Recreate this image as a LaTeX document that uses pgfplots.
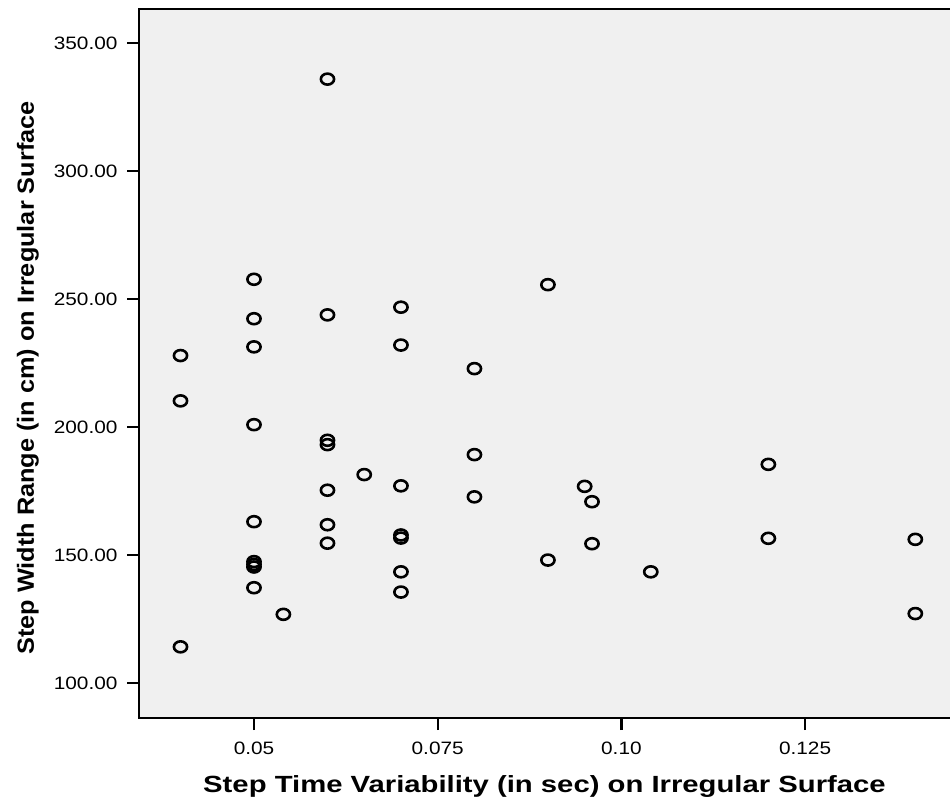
\documentclass[border=0pt]{standalone}
\usepackage{fontspec}
\setmainfont{Liberation Sans}
\newfontfamily\tickfont[FakeStretch=1.16]{Liberation Sans}
\newfontfamily\xlabfont[FakeStretch=1.25]{Liberation Sans}
\newfontfamily\ylabfont[FakeStretch=1.08]{Liberation Sans}
\usepackage{pgfplots}
\pgfplotsset{compat=1.18}
\definecolor{plotbg}{HTML}{F0F0F0}
\begin{document}
\begin{tikzpicture}
\begin{axis}[
  scale only axis,
  width=811bp, height=709bp,
  xmin=0.03435, xmax=0.14472,
  ymin=86.3, ymax=363.3,
  clip=false,
  axis background/.style={fill=plotbg},
  axis line style={draw=none},
  tick align=outside,
  major tick length=12bp,
  every tick/.style={black, line width=2.2bp},
  xtick pos=lower, ytick pos=left,
  xtick={0.05,0.075,0.1,0.125},
  xticklabels={0.05,0.075,0.10,0.125},
  ytick={100,150,200,250,300,350},
  yticklabels={100.00,150.00,200.00,250.00,300.00,350.00},
  /pgf/number format/assume math mode=true,
  tick label style={font=\tickfont\fontsize{18}{21}\selectfont},
  xticklabel style={yshift=-8bp},
  yticklabel style={xshift=-6bp},
  xlabel={Step Time Variability (in sec) on Irregular Surface},
  ylabel={Step Width Range (in cm) on Irregular Surface},
  xlabel style={font=\xlabfont\bfseries\fontsize{23.5}{27}\selectfont,
    at={(axis description cs:0.5,-0.0973)}, anchor=center},
  ylabel style={font=\ylabfont\bfseries\fontsize{23.5}{27}\selectfont,
    at={(axis description cs:-0.1369,0.4795)}, anchor=center},
]
\addplot[only marks, mark=o, mark size=5.5bp,
  mark options={xscale=1.2, line width=2.6bp, black}] coordinates {
  (0.04,227.9) (0.04,210.2) (0.04,114.1)
  (0.05,257.7) (0.05,242.3) (0.05,231.3) (0.05,200.9) (0.05,163.0)
  (0.05,147.4) (0.05,146.3) (0.05,145.3) (0.05,137.2)
  (0.054,126.8)
  (0.06,335.9) (0.06,243.8) (0.06,194.8) (0.06,193.1) (0.06,175.3)
  (0.06,161.8) (0.06,154.6)
  (0.065,181.4)
  (0.07,246.8) (0.07,232.0) (0.07,177.0) (0.07,157.8) (0.07,156.6)
  (0.07,143.4) (0.07,135.5)
  (0.08,222.8) (0.08,189.2) (0.08,172.7)
  (0.09,255.6) (0.09,148.0)
  (0.095,176.8) (0.096,170.8) (0.096,154.4)
  (0.104,143.4)
  (0.12,185.4) (0.12,156.5)
  (0.14,156.1) (0.14,127.1)
};
\draw[line width=2.6bp, black] (rel axis cs:1,1) -- (rel axis cs:0,1)
  -- (rel axis cs:0,0) -- (rel axis cs:1,0);
\coordinate (sw) at (rel axis cs:0,0);
\coordinate (ne) at (rel axis cs:1,1);
\end{axis}
\pgfresetboundingbox
\useasboundingbox ([xshift=-139bp,yshift=-86bp]sw) rectangle ([yshift=9bp]ne);
\end{tikzpicture}
\end{document}
